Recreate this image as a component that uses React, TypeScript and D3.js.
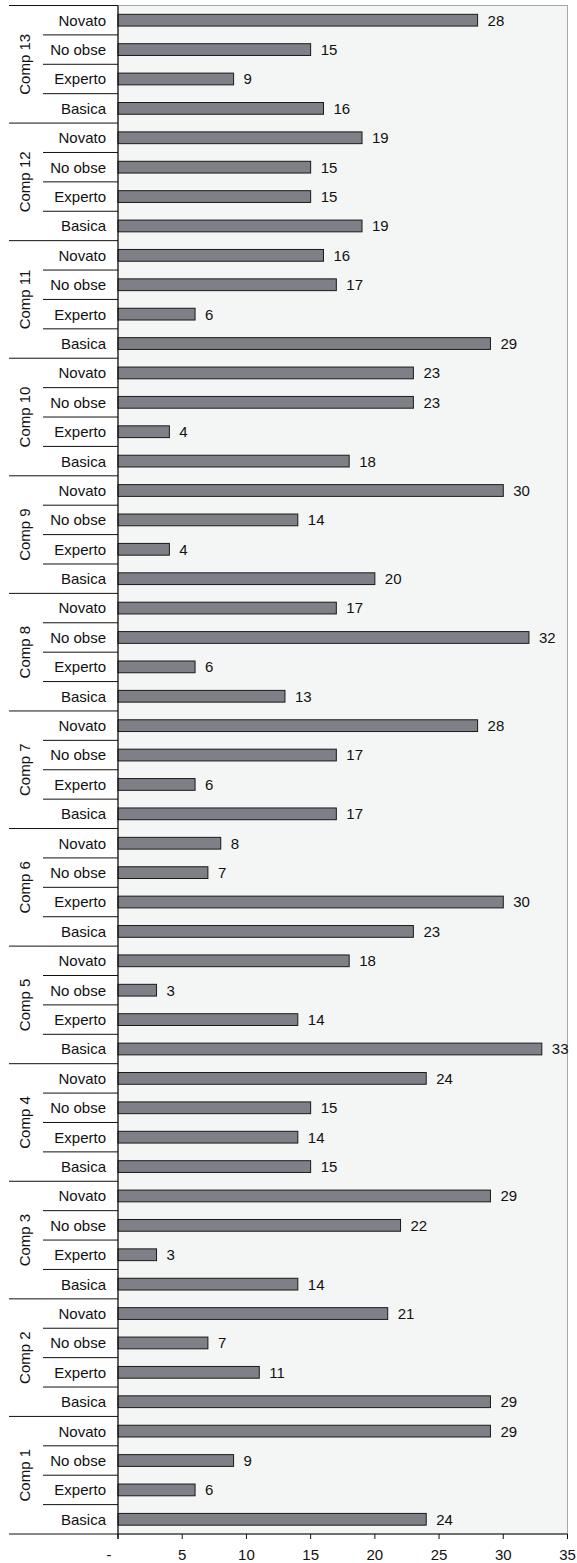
import React from "react";
import * as d3 from "d3";

const groups = ["Comp 1","Comp 2","Comp 3","Comp 4","Comp 5","Comp 6","Comp 7","Comp 8","Comp 9","Comp 10","Comp 11","Comp 12","Comp 13"];
const levels = ["Basica","Experto","No obse","Novato"];
const basica = [24,29,14,15,33,23,17,13,20,18,29,19,16];
const experto = [6,11,3,14,14,30,6,6,4,4,6,15,9];
const noObse = [9,7,22,15,3,7,17,32,14,23,17,15,15];
const novato = [29,21,29,24,18,8,28,17,30,23,16,19,28];
const xTicks = [0,5,10,15,20,25,30,35];

const W = 577, H = 1563;
const left = 118, right = 567.5, top = 5.5, bottom = 1534;

export default function App() {
  const series = [basica, experto, noObse, novato];
  const rows: { key: string; group: string; level: string; value: number }[] = [];
  groups.forEach((g, gi) => {
    levels.forEach((l, li) => {
      rows.push({ key: g + "|" + l, group: g, level: l, value: series[li][gi] });
    });
  });
  const order = rows.slice().reverse().map(r => r.key);
  const x = d3.scaleLinear().domain([0, 35]).range([left, right]);
  const y = d3.scaleBand().domain(order).range([top, bottom]).paddingInner(0.6).paddingOuter(0.3);
  const step = y.step();
  const groupBands = d3.scaleBand().domain(groups.slice().reverse()).range([top, bottom]);
  const font = "'Liberation Sans', Arial, sans-serif";

  return (
    <svg width={W} height={H} style={{ position: "absolute", left: 0, top: 0 }} fontFamily={font}>
      <rect x={left} y={top} width={right - left} height={bottom - top} fill="#f4f6f5" stroke="#a8a8a8" strokeWidth={1} />
      {rows.map(r => (
        <g key={r.key}>
          <rect x={x(0)} y={y(r.key)!} width={x(r.value) - x(0)} height={y.bandwidth()} fill="#7f7f87" stroke="#1a1a1a" strokeWidth={1} />
          <text x={x(r.value) + 10} y={y(r.key)! + y.bandwidth() / 2} dy="0.36em" fontSize={15} fill="#111">{r.value}</text>
          <text x={106} y={y(r.key)! + y.bandwidth() / 2} dy="0.36em" fontSize={15} textAnchor="end" fill="#111">{r.level}</text>
        </g>
      ))}
      {order.map((k, i) => {
        const yy = top + i * step;
        const isGroup = i % 4 === 0;
        return <line key={"s" + k} x1={isGroup ? 9 : 43} x2={left} y1={yy} y2={yy} stroke="#111" strokeWidth={1} />;
      })}
      <line x1={9} x2={left} y1={bottom} y2={bottom} stroke="#111" strokeWidth={1} />
      {groups.map(g => (
        <text key={"g" + g} transform={`translate(25,${groupBands(g)! + groupBands.bandwidth() / 2}) rotate(-90)`} dy="0.36em" textAnchor="middle" fontSize={15} fill="#111">{g}</text>
      ))}
      <line x1={left} x2={left} y1={top} y2={bottom + 5} stroke="#111" strokeWidth={1.2} />
      <line x1={left} x2={right} y1={bottom} y2={bottom} stroke="#111" strokeWidth={1.2} />
      {xTicks.map(t => (
        <g key={"t" + t}>
          <line x1={x(t)} x2={x(t)} y1={bottom} y2={bottom + 5} stroke="#111" strokeWidth={1} />
          <text x={x(t) + (t === 0 ? -9 : 0)} y={1560} textAnchor="middle" fontSize={15} fill="#111">{t === 0 ? "-" : t}</text>
        </g>
      ))}
    </svg>
  );
}
